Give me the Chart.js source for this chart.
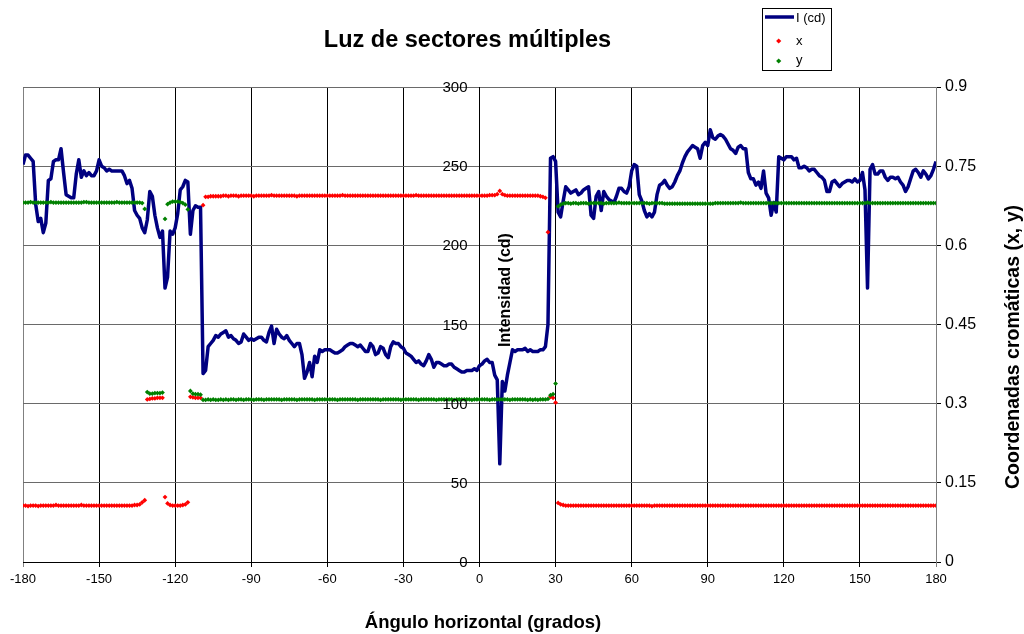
<!DOCTYPE html>
<html>
<head>
<meta charset="utf-8">
<title>Luz de sectores múltiples</title>
<style>
  html, body { margin: 0; padding: 0; background: #fff; }
  #wrap { width: 1024px; height: 634px; }
</style>
<script src="https://cdn.jsdelivr.net/npm/chart.js@4/dist/chart.umd.min.js"></script>
</head>
<body>
<div id="wrap"><canvas id="sectores" width="1024" height="634"></canvas></div>
<script>
// ángulo horizontal, un punto por grado
var angles = Array.from({ length: 361 }, function (_, i) { return i - 180; });

// intensidad I (cd), de -180 a 180
var intensity = [
  // -180 .. -161
  251, 257, 257, 255, 253, 226, 215, 217, 208, 214, 241, 242, 253, 254, 254, 261, 246, 232, 231, 230,
  // -160 .. -141
  230, 245, 254, 243, 247, 244, 246, 244, 244, 247, 254, 250, 249, 247, 248, 247, 247, 247, 247, 247,
  // -140 .. -121
  244, 239, 241, 236, 222, 219, 217, 211, 208, 216, 234, 231, 219, 211, 205, 209, 173, 180, 209, 207,
  // -120 .. -101
  211, 220, 235, 237, 241, 240, 207, 222, 225, 224, 224, 119, 121, 136, 138, 140, 143, 142, 144, 145,
  // -100 .. -81
  146, 142, 143, 141, 140, 138, 139, 144, 142, 140, 141, 140, 141, 142, 142, 140, 139, 145, 149, 138,
  // -80 .. -61
  147, 144, 142, 141, 143, 140, 138, 136, 138, 138, 131, 116, 120, 126, 117, 130, 126, 134, 133, 134,
  // -60 .. -41
  134, 134, 133, 132, 132, 133, 134, 136, 137, 138, 138, 137, 136, 137, 135, 133, 133, 138, 136, 131,
  // -40 .. -21
  132, 136, 135, 131, 129, 136, 139, 138, 138, 136, 135, 132, 131, 130, 128, 126, 127, 125, 124, 127,
  // -20 .. -1
  131, 128, 123, 126, 126, 125, 124, 124, 125, 125, 123, 122, 121, 120, 120, 121, 121, 121, 122, 121,
  // 0 .. 19
  124, 125, 127, 128, 126, 126, 118, 115, 62, 114, 108, 118, 126, 134, 133, 134, 134, 134, 135, 133,
  // 20 .. 39
  134, 133, 133, 133, 134, 134, 136, 150, 255, 256, 253, 221, 218, 228, 237, 235, 233, 234, 235, 232,
  // 40 .. 59
  233, 235, 236, 237, 219, 217, 231, 234, 222, 234, 231, 229, 228, 227, 231, 236, 236, 234, 233, 237,
  // 60 .. 79
  247, 251, 250, 232, 228, 222, 218, 220, 218, 221, 232, 238, 239, 241, 238, 236, 237, 240, 244, 247,
  // 80 .. 99
  252, 256, 259, 261, 263, 262, 261, 255, 263, 265, 263, 273, 268, 267, 269, 270, 269, 267, 264, 261,
  // 100 .. 119
  260, 258, 262, 263, 261, 261, 246, 242, 242, 238, 240, 236, 247, 233, 230, 219, 227, 221, 256, 255,
  // 120 .. 139
  254, 256, 256, 256, 254, 255, 249, 249, 250, 249, 247, 248, 248, 246, 244, 243, 241, 234, 234, 240,
  // 140 .. 159
  241, 239, 237, 239, 240, 241, 241, 240, 242, 240, 241, 246, 235, 173, 248, 251, 245, 245, 247, 247,
  // 160 .. 179
  243, 241, 243, 243, 242, 243, 240, 238, 234, 237, 242, 247, 248, 246, 243, 247, 245, 242, 244, 248,
  // 180
  253
];

// coordenada cromática x
var chromaX = [
  // -180 .. -161
  0.107, 0.107, 0.106, 0.107, 0.107, 0.107, 0.106, 0.107, 0.107, 0.107, 0.107, 0.107, 0.107, 0.108, 0.107, 0.107, 0.107, 0.107, 0.107, 0.107,
  // -160 .. -141
  0.107, 0.107, 0.107, 0.108, 0.107, 0.107, 0.107, 0.107, 0.107, 0.107, 0.107, 0.107, 0.107, 0.107, 0.107, 0.107, 0.107, 0.107, 0.107, 0.107,
  // -140 .. -121
  0.107, 0.107, 0.107, 0.107, 0.108, 0.108, 0.109, 0.113, 0.117, 0.308, 0.309, 0.310, 0.310, 0.311, 0.311, 0.311, 0.123, 0.111, 0.108, 0.107,
  // -120 .. -101
  0.107, 0.107, 0.107, 0.108, 0.109, 0.113, 0.313, 0.312, 0.311, 0.311, 0.311, 0.676, 0.692, 0.692, 0.693, 0.693, 0.693, 0.693, 0.693, 0.694,
  // -100 .. -81
  0.694, 0.693, 0.694, 0.694, 0.694, 0.693, 0.694, 0.694, 0.694, 0.694, 0.694, 0.693, 0.694, 0.694, 0.694, 0.694, 0.694, 0.694, 0.695, 0.694,
  // -80 .. -61
  0.694, 0.694, 0.694, 0.694, 0.694, 0.694, 0.694, 0.694, 0.693, 0.694, 0.694, 0.694, 0.694, 0.694, 0.694, 0.694, 0.694, 0.694, 0.694, 0.694,
  // -60 .. -41
  0.694, 0.694, 0.694, 0.694, 0.694, 0.694, 0.695, 0.694, 0.694, 0.694, 0.694, 0.694, 0.694, 0.694, 0.694, 0.694, 0.694, 0.694, 0.694, 0.694,
  // -40 .. -21
  0.694, 0.694, 0.694, 0.694, 0.694, 0.694, 0.694, 0.694, 0.694, 0.694, 0.694, 0.694, 0.694, 0.694, 0.694, 0.695, 0.694, 0.694, 0.694, 0.694,
  // -20 .. -1
  0.694, 0.694, 0.694, 0.694, 0.694, 0.694, 0.694, 0.694, 0.694, 0.694, 0.694, 0.694, 0.694, 0.694, 0.694, 0.694, 0.694, 0.694, 0.694, 0.694,
  // 0 .. 19
  0.694, 0.694, 0.694, 0.694, 0.695, 0.695, 0.695, 0.697, 0.703, 0.697, 0.695, 0.694, 0.694, 0.694, 0.694, 0.694, 0.694, 0.694, 0.694, 0.694,
  // 20 .. 39
  0.694, 0.694, 0.694, 0.694, 0.693, 0.692, 0.690, 0.625, 0.313, 0.311, 0.302, 0.112, 0.109, 0.108, 0.107, 0.107, 0.107, 0.107, 0.107, 0.107,
  // 40 .. 59
  0.107, 0.107, 0.107, 0.107, 0.107, 0.107, 0.107, 0.107, 0.107, 0.107, 0.107, 0.107, 0.107, 0.107, 0.107, 0.107, 0.107, 0.107, 0.107, 0.107,
  // 60 .. 79
  0.107, 0.107, 0.107, 0.107, 0.107, 0.107, 0.107, 0.107, 0.106, 0.107, 0.107, 0.107, 0.107, 0.107, 0.107, 0.107, 0.107, 0.107, 0.107, 0.107,
  // 80 .. 99
  0.107, 0.107, 0.107, 0.107, 0.107, 0.107, 0.107, 0.107, 0.107, 0.107, 0.107, 0.107, 0.107, 0.107, 0.107, 0.107, 0.107, 0.107, 0.107, 0.107,
  // 100 .. 119
  0.107, 0.107, 0.107, 0.107, 0.107, 0.107, 0.107, 0.107, 0.107, 0.107, 0.107, 0.107, 0.107, 0.107, 0.107, 0.107, 0.107, 0.107, 0.107, 0.107,
  // 120 .. 139
  0.107, 0.107, 0.107, 0.107, 0.107, 0.107, 0.107, 0.107, 0.107, 0.107, 0.107, 0.107, 0.107, 0.107, 0.107, 0.107, 0.107, 0.107, 0.107, 0.107,
  // 140 .. 159
  0.107, 0.107, 0.107, 0.107, 0.107, 0.107, 0.107, 0.107, 0.107, 0.107, 0.107, 0.107, 0.107, 0.107, 0.107, 0.107, 0.107, 0.107, 0.107, 0.107,
  // 160 .. 179
  0.107, 0.107, 0.107, 0.107, 0.107, 0.107, 0.107, 0.107, 0.107, 0.107, 0.107, 0.107, 0.107, 0.107, 0.107, 0.107, 0.107, 0.107, 0.107, 0.107,
  // 180
  0.107
];

// coordenada cromática y
var chromaY = [
  // -180 .. -161
  0.681, 0.681, 0.681, 0.682, 0.681, 0.681, 0.681, 0.681, 0.681, 0.681, 0.681, 0.682, 0.681, 0.681, 0.681, 0.681, 0.681, 0.681, 0.681, 0.681,
  // -160 .. -141
  0.681, 0.681, 0.681, 0.681, 0.682, 0.682, 0.681, 0.681, 0.681, 0.681, 0.681, 0.681, 0.681, 0.681, 0.681, 0.681, 0.681, 0.682, 0.681, 0.681,
  // -140 .. -121
  0.681, 0.681, 0.681, 0.681, 0.681, 0.681, 0.681, 0.680, 0.669, 0.322, 0.319, 0.319, 0.320, 0.320, 0.320, 0.321, 0.650, 0.678, 0.681, 0.683,
  // -120 .. -101
  0.683, 0.683, 0.682, 0.680, 0.677, 0.668, 0.324, 0.319, 0.318, 0.318, 0.317, 0.307, 0.307, 0.308, 0.307, 0.308, 0.307, 0.307, 0.308, 0.307,
  // -100 .. -81
  0.308, 0.307, 0.308, 0.308, 0.307, 0.308, 0.308, 0.307, 0.308, 0.308, 0.308, 0.307, 0.308, 0.308, 0.308, 0.307, 0.308, 0.308, 0.308, 0.308,
  // -80 .. -61
  0.308, 0.308, 0.307, 0.308, 0.308, 0.308, 0.308, 0.308, 0.307, 0.308, 0.308, 0.308, 0.308, 0.308, 0.308, 0.307, 0.308, 0.308, 0.308, 0.308,
  // -60 .. -41
  0.308, 0.308, 0.308, 0.308, 0.307, 0.308, 0.308, 0.308, 0.308, 0.308, 0.308, 0.308, 0.307, 0.308, 0.308, 0.308, 0.308, 0.308, 0.308, 0.308,
  // -40 .. -21
  0.308, 0.307, 0.308, 0.308, 0.308, 0.308, 0.308, 0.308, 0.308, 0.307, 0.308, 0.308, 0.308, 0.308, 0.308, 0.308, 0.307, 0.308, 0.308, 0.308,
  // -20 .. -1
  0.308, 0.308, 0.308, 0.307, 0.308, 0.308, 0.308, 0.308, 0.308, 0.308, 0.307, 0.308, 0.308, 0.308, 0.308, 0.308, 0.308, 0.307, 0.308, 0.308,
  // 0 .. 19
  0.308, 0.308, 0.308, 0.308, 0.307, 0.308, 0.308, 0.308, 0.308, 0.308, 0.308, 0.308, 0.307, 0.308, 0.308, 0.308, 0.308, 0.308, 0.308, 0.307,
  // 20 .. 39
  0.308, 0.307, 0.308, 0.307, 0.308, 0.308, 0.308, 0.309, 0.316, 0.318, 0.338, 0.674, 0.677, 0.679, 0.680, 0.680, 0.679, 0.680, 0.680, 0.679,
  // 40 .. 59
  0.680, 0.680, 0.680, 0.679, 0.680, 0.680, 0.680, 0.680, 0.680, 0.679, 0.680, 0.680, 0.680, 0.680, 0.680, 0.681, 0.680, 0.680, 0.680, 0.680,
  // 60 .. 79
  0.680, 0.680, 0.680, 0.680, 0.680, 0.680, 0.680, 0.679, 0.680, 0.680, 0.680, 0.680, 0.680, 0.679, 0.679, 0.679, 0.679, 0.679, 0.679, 0.679,
  // 80 .. 99
  0.679, 0.679, 0.679, 0.679, 0.679, 0.679, 0.679, 0.679, 0.679, 0.679, 0.679, 0.679, 0.679, 0.680, 0.680, 0.680, 0.680, 0.680, 0.680, 0.680,
  // 100 .. 119
  0.680, 0.680, 0.680, 0.681, 0.680, 0.680, 0.680, 0.680, 0.680, 0.680, 0.680, 0.680, 0.680, 0.680, 0.680, 0.680, 0.680, 0.680, 0.680, 0.680,
  // 120 .. 139
  0.680, 0.680, 0.680, 0.680, 0.680, 0.680, 0.680, 0.680, 0.680, 0.680, 0.680, 0.680, 0.680, 0.680, 0.680, 0.680, 0.680, 0.680, 0.680, 0.680,
  // 140 .. 159
  0.680, 0.680, 0.680, 0.680, 0.680, 0.680, 0.680, 0.680, 0.680, 0.680, 0.680, 0.680, 0.680, 0.681, 0.680, 0.680, 0.680, 0.680, 0.680, 0.680,
  // 160 .. 179
  0.680, 0.680, 0.680, 0.680, 0.680, 0.680, 0.680, 0.680, 0.680, 0.680, 0.680, 0.680, 0.680, 0.680, 0.680, 0.680, 0.680, 0.680, 0.680, 0.680,
  // 180
  0.680
];

// marcas de los ejes
var angleTicks = [-180, -150, -120, -90, -60, -30, 0, 30, 60, 90, 120, 150, 180];
var intensityTicks = [0, 50, 100, 150, 200, 250, 300];
var chromaTicks = [0, 0.15, 0.3, 0.45, 0.6, 0.75, 0.9];

var FONT = "'Liberation Sans', Arial, Helvetica, sans-serif";

function points(values) {
  return values.map(function (v, i) { return { x: angles[i], y: v }; });
}

function fixedTicks(list) {
  return function (scale) {
    scale.ticks = list.map(function (v) { return { value: v }; });
  };
}

// título, títulos de ejes, rótulos del eje de intensidad y leyenda
var rotulos = {
  id: 'rotulos',
  afterDraw: function (chart) {
    var ctx = chart.ctx;
    var sx = chart.scales.x;
    var sy = chart.scales.y;
    ctx.save();
    ctx.fillStyle = '#000';

    // el eje de intensidad cruza en 0°: rótulos a su izquierda
    var ejeX = sx.getPixelForValue(0);
    ctx.font = '15px ' + FONT;
    ctx.textAlign = 'right';
    ctx.textBaseline = 'middle';
    intensityTicks.forEach(function (v) {
      ctx.fillText(String(v), ejeX - 12, sy.getPixelForValue(v) + 1);
    });

    ctx.textAlign = 'center';
    ctx.textBaseline = 'alphabetic';
    ctx.font = 'bold 23.5px ' + FONT;
    ctx.fillText('Luz de sectores múltiples', 467.5, 47);

    ctx.font = 'bold 18.5px ' + FONT;
    ctx.fillText('Ángulo horizontal (grados)', 483, 628);

    ctx.save();
    ctx.translate(510, 290);
    ctx.rotate(-Math.PI / 2);
    ctx.font = 'bold 16px ' + FONT;
    ctx.fillText('Intensidad (cd)', 0, 0);
    ctx.restore();

    ctx.save();
    ctx.translate(1019, 347);
    ctx.rotate(-Math.PI / 2);
    ctx.font = 'bold 19.5px ' + FONT;
    ctx.fillText('Coordenadas cromáticas (x, y)', 0, 0);
    ctx.restore();

    // leyenda
    ctx.fillStyle = '#fff';
    ctx.fillRect(762, 8, 70, 62);
    ctx.strokeStyle = '#000';
    ctx.lineWidth = 1;
    ctx.strokeRect(762.5, 8.5, 69, 62);

    ctx.strokeStyle = '#000080';
    ctx.lineWidth = 3.5;
    ctx.beginPath();
    ctx.moveTo(765, 17);
    ctx.lineTo(794, 17);
    ctx.stroke();

    function rombo(cx, cy, color) {
      ctx.fillStyle = color;
      ctx.beginPath();
      ctx.moveTo(cx, cy - 2.6);
      ctx.lineTo(cx + 2.6, cy);
      ctx.lineTo(cx, cy + 2.6);
      ctx.lineTo(cx - 2.6, cy);
      ctx.closePath();
      ctx.fill();
    }
    rombo(778.7, 41, '#ff0000');
    rombo(778.7, 61, '#008000');

    ctx.fillStyle = '#000';
    ctx.textAlign = 'left';
    ctx.textBaseline = 'middle';
    ctx.font = '13px ' + FONT;
    ctx.fillText('I (cd)', 796, 18);
    ctx.fillText('x', 796, 41);
    ctx.fillText('y', 796, 60);
    ctx.restore();
  }
};

Chart.defaults.font.family = FONT;
Chart.defaults.color = '#000';

var ctx = document.getElementById('sectores').getContext('2d');
var chart = new Chart(ctx, {
  type: 'line',
  data: {
    datasets: [{
      label: 'y',
      data: points(chromaY),
      yAxisID: 'y1',
      showLine: false,
      pointStyle: 'rectRot',
      pointRadius: 2.4,
      pointBorderWidth: 0,
      pointBackgroundColor: '#008000',
      borderColor: '#008000',
      order: 0
    }, {
      label: 'x',
      data: points(chromaX),
      yAxisID: 'y1',
      showLine: false,
      pointStyle: 'rectRot',
      pointRadius: 2.4,
      pointBorderWidth: 0,
      pointBackgroundColor: '#ff0000',
      borderColor: '#ff0000',
      order: 1
    }, {
      label: 'I (cd)',
      data: points(intensity),
      yAxisID: 'y',
      borderColor: '#000080',
      borderWidth: 3.5,
      borderJoinStyle: 'round',
      pointRadius: 0,
      tension: 0,
      fill: false,
      order: 2
    }]
  },
  options: {
    responsive: false,
    animation: false,
    devicePixelRatio: 1,
    layout: { padding: { left: 23, top: 87, right: 0, bottom: 0 } },
    plugins: {
      legend: { display: false },
      tooltip: { enabled: false },
      title: { display: false }
    },
    scales: {
      x: {
        type: 'linear',
        min: -180,
        max: 180,
        afterBuildTicks: fixedTicks(angleTicks),
        afterFit: function (s) { s.height = 72; },
        grid: {
          color: function (c) { return (c.tick && Math.abs(c.tick.value) === 180) ? '#808080' : '#000'; },
          lineWidth: 1,
          tickLength: 5
        },
        border: { color: '#000' },
        ticks: { font: { size: 13 }, padding: 5, maxRotation: 0, autoSkip: false }
      },
      y: {
        type: 'linear',
        position: { x: 0 },
        min: 0,
        max: 300,
        afterBuildTicks: fixedTicks(intensityTicks),
        grid: { color: '#6a6a6a', lineWidth: 1, tickLength: 6 },
        border: { color: '#000' },
        ticks: { display: false }
      },
      y1: {
        type: 'linear',
        position: 'right',
        min: 0,
        max: 0.9,
        afterBuildTicks: fixedTicks(chromaTicks),
        afterFit: function (s) { s.width = 88; },
        grid: { drawOnChartArea: false, color: '#000', tickLength: 5 },
        border: { color: '#808080' },
        ticks: {
          font: { size: 16 },
          padding: 4,
          callback: function (v) { return String(v); }
        }
      }
    }
  },
  plugins: [rotulos]
});
</script>
</body>
</html>
